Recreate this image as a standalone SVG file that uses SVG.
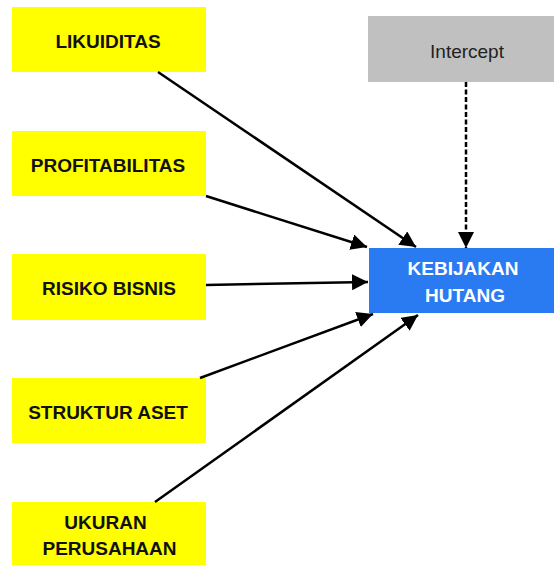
<svg xmlns="http://www.w3.org/2000/svg" width="554" height="565" viewBox="0 0 554 565">
<style>
.y{fill:#ffff00}
.t{font-family:"Liberation Sans",Arial,sans-serif;font-size:19px;font-weight:bold;fill:#111;text-anchor:middle}
.w{font-family:"Liberation Sans",Arial,sans-serif;font-size:19px;font-weight:bold;fill:#fff;text-anchor:middle}
.g{font-family:"Liberation Sans",Arial,sans-serif;font-size:19px;fill:#222;text-anchor:middle}
.c{stroke:#000;stroke-width:2.5;fill:none;marker-end:url(#ah)}
</style>
<defs>
<marker id="ah" viewBox="0 0 10 10" refX="10" refY="5" markerWidth="6.4" markerHeight="6.4" orient="auto" markerUnits="strokeWidth">
<path d="M0,0 L10,5 L0,10 z" fill="#000"/>
</marker>
</defs>
<rect width="554" height="565" fill="#fff"/>
<g id="likuiditas"><rect class="y" x="12" y="7" width="194" height="65"/><text class="t" x="108" y="48">LIKUIDITAS</text></g>
<g id="profitabilitas"><rect class="y" x="12" y="131" width="194" height="65"/><text class="t" x="108" y="172">PROFITABILITAS</text></g>
<g id="risiko"><rect class="y" x="12" y="254" width="194" height="66"/><text class="t" x="109" y="295">RISIKO BISNIS</text></g>
<g id="struktur"><rect class="y" x="12" y="378" width="194" height="65"/><text class="t" x="108" y="419">STRUKTUR ASET</text></g>
<g id="ukuran"><rect class="y" x="12" y="502" width="194" height="63"/><text class="t" x="105.5" y="529">UKURAN</text><text class="t" x="109.5" y="555">PERUSAHAAN</text></g>
<g id="intercept"><rect x="368" y="16" width="186" height="66" fill="#c0c0c0"/><text class="g" x="467" y="58">Intercept</text></g>
<g id="kebijakan"><rect x="369" y="248" width="185" height="65" fill="#2a7af2"/><text class="w" x="463" y="275">KEBIJAKAN</text><text class="w" x="465" y="302">HUTANG</text></g>
<g id="connectors">
<line class="c" x1="158" y1="72" x2="416" y2="247"/>
<line class="c" x1="206" y1="196" x2="367" y2="247"/>
<line class="c" x1="206" y1="285" x2="368" y2="282"/>
<line class="c" x1="200" y1="378" x2="373" y2="314"/>
<line class="c" x1="155" y1="502" x2="418" y2="315"/>
<line class="c" x1="466" y1="82" x2="466" y2="248" stroke-dasharray="5,2.5"/>
</g>
</svg>
